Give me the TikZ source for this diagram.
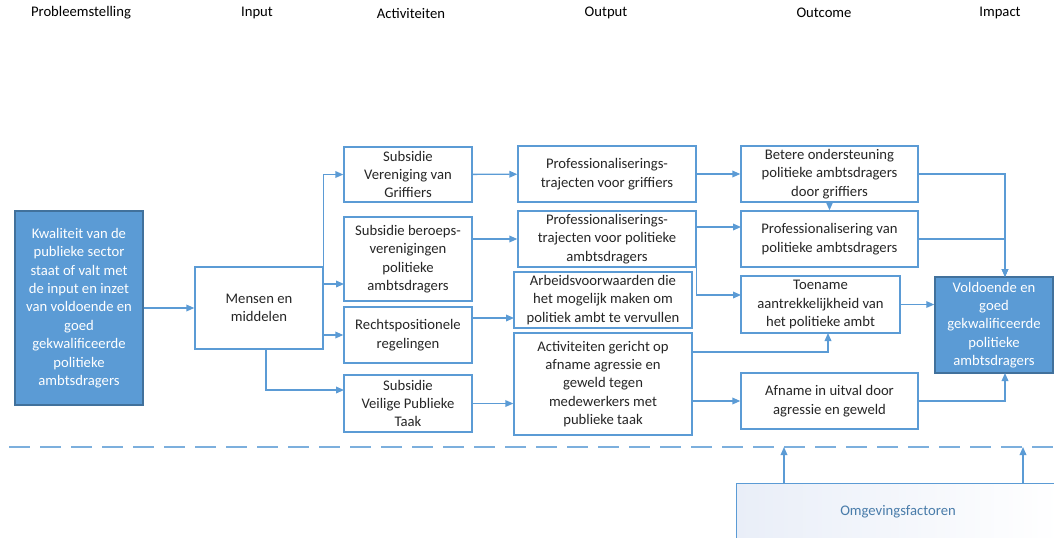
\documentclass[tikz,border=0pt]{standalone}
\usepackage{fontspec}
\setmainfont{Carlito}
\usetikzlibrary{arrows.meta}
\definecolor{acc}{RGB}{91,155,213}
\definecolor{accdark}{RGB}{65,113,156}
\definecolor{omgfill}{RGB}{233,238,248}
\definecolor{boxtext}{RGB}{38,38,38}
\tikzset{every picture/.style={line width=0.75pt}}
\tikzset{
  box/.style={draw=acc, line width=1pt, fill=white, align=center, inner sep=1pt, text=boxtext, font=\fontsize{11}{13.8}\selectfont},
  keybox/.style={box, draw=accdark, line width=1.1pt, fill=acc, text=white},
  conn/.style={draw=acc, line width=1pt, -{Triangle[length=6pt,width=5pt]}},
  head/.style={font=\fontsize{11}{13}\selectfont, text=black, inner sep=0.75pt},
  dashline/.style={draw=acc!80, line width=1.1pt, dash pattern=on 15.75pt off 7.5pt, dash phase=16.5pt},
}

\begin{document}
\begin{tikzpicture}[x=0.75pt,y=0.75pt,yscale=-1,xscale=1]
\useasboundingbox (0,0) rectangle (1054,537);
\clip (0,0) rectangle (1054,537);

% Text Node
\node[head] (hprob) at (81,13) {Probleemstelling};
\node[head] (hin) at (257,13) {Input};
\node[head] (hact) at (411,13) {Activiteiten};
\node[head] (hout) at (606,13) {Output};
\node[head] (hoc) at (824,13) {Outcome};
\node[head] (himp) at (1000,13) {Impact};

%Shape: Rectangle
\node[keybox, minimum width=96pt, minimum height=145.5pt] (prob) at (79,308) {Kwaliteit van de\\publieke sector\\staat of valt met\\de input en inzet\\van voldoende en\\goed\\gekwalificeerde\\politieke\\ambtsdragers};
\node[box, minimum width=96pt, minimum height=61.5pt] (mensen) at (259,308) {Mensen en\\middelen};

%Shape: Rectangle (activiteiten)
\node[box, minimum width=96pt, minimum height=41.25pt] (vvg) at (408,174.5) {Subsidie\\Vereniging van\\Griffiers};
\node[box, minimum width=96pt, minimum height=63pt] (beroeps) at (408,259) {Subsidie beroeps-\\verenigingen\\politieke\\ambtsdragers};
\node[box, minimum width=96pt, minimum height=42pt] (rechts) at (408,335) {Rechtspositionele\\regelingen};
\node[box, minimum width=96pt, minimum height=42.75pt] (veilig) at (408,403.5) {Subsidie\\Veilige Publieke\\Taak};

%Shape: Rectangle (output)
\node[box, minimum width=133.5pt, minimum height=42pt] (pgrif) at (607,174) {Professionaliserings-\\trajecten voor griffiers};
\node[box, minimum width=133.5pt, minimum height=42pt] (ppol) at (607,239) {Professionaliserings-\\trajecten voor politieke\\ambtsdragers};
\node[box, minimum width=133.5pt, minimum height=42pt] (arbeid) at (603,300) {Arbeidsvoorwaarden die\\het mogelijk maken om\\politiek ambt te vervullen};
\node[box, minimum width=133.5pt, minimum height=76.5pt] (activ) at (603,384) {Activiteiten gericht op\\afname agressie en\\geweld tegen\\medewerkers met\\publieke taak};

%Shape: Rectangle (outcome)
\node[box, minimum width=132.75pt, minimum height=42pt] (betere) at (829.5,174) {Betere ondersteuning\\politieke ambtsdragers\\door griffiers};
\node[box, minimum width=132.75pt, minimum height=42pt] (profvan) at (829.5,239) {Professionalisering van\\politieke ambtsdragers};
\node[box, minimum width=119.25pt, minimum height=42.75pt] (toename) at (820.5,304.5) {Toename\\aantrekkelijkheid van\\het politieke ambt};
\node[box, minimum width=132.75pt, minimum height=42pt] (afname) at (829.5,401) {Afname in uitval door\\agressie en geweld};

%Shape: Rectangle (impact)
\node[keybox, minimum width=88.5pt, minimum height=72pt] (impact) at (994,325) {Voldoende en\\goed\\gekwalificeerde\\politieke\\ambtsdragers};

%Shape: Rectangle (omgeving)
\node[box, draw=acc, line width=0.75pt, left color=omgfill, right color=white, text=acc!80!black, minimum width=243pt, minimum height=43.5pt] (omgev) at (898,512) {Omgevingsfactoren};

%Straight Lines
\draw[dashline] (0,447) -- (1054,447) ;

\coordinate (berin) at (344,284);
\coordinate (veiin) at (344,390);
\coordinate (mensbot) at (266,349);
\coordinate (arbin) at (514,318);
\coordinate (pvin) at (741,227);
\coordinate (toein) at (741,295);
\coordinate (actout) at (692,352);
\coordinate (toeup) at (828,333);
\coordinate (impin) at (1005,277);
\coordinate (impout) at (1005,373);
\coordinate (envA) at (784,447);
\coordinate (envB) at (1023,447);

%Connectors
\draw[conn] (prob) -- (mensen) ;
\draw[conn] (mensen.north east) |- (vvg.west) ;
\draw[conn] (mensen.north east) |- (berin) ;
\draw[conn] (mensen.north east) |- (rechts.west) ;
\draw[conn] (mensbot) |- (veiin) ;

\draw[conn] (vvg) -- (pgrif) ;
\draw[conn] (ppol.west -| beroeps.east) -- (ppol.west) ;
\draw[conn] (arbin -| rechts.east) -- (arbin) ;
\draw[conn] (veilig.east) -- (veilig.east -| activ.west) ;

\draw[conn] (pgrif) -- (pgrif -| betere.west) ;
\draw[conn] (pvin -| ppol.east) -- (pvin) ;
\draw[conn] (ppol.south east) |- (toein) ;
\draw[conn] (actout) -| (toeup) ;
\draw[conn] (activ.east |- afname) -- (afname) ;

\draw[conn] (betere) -- (profvan) ;
\draw[conn] (betere.east) -| (impin) ;
\draw[conn] (profvan.east) -| (impin) ;
\draw[conn] (toename) -- (toename -| impact.west) ;
\draw[conn] (afname.east) -| (impout) ;

\draw[conn] (omgev.north -| envA) -- (envA) ;
\draw[conn] (omgev.north -| envB) -- (envB) ;

\end{tikzpicture}
\end{document}
